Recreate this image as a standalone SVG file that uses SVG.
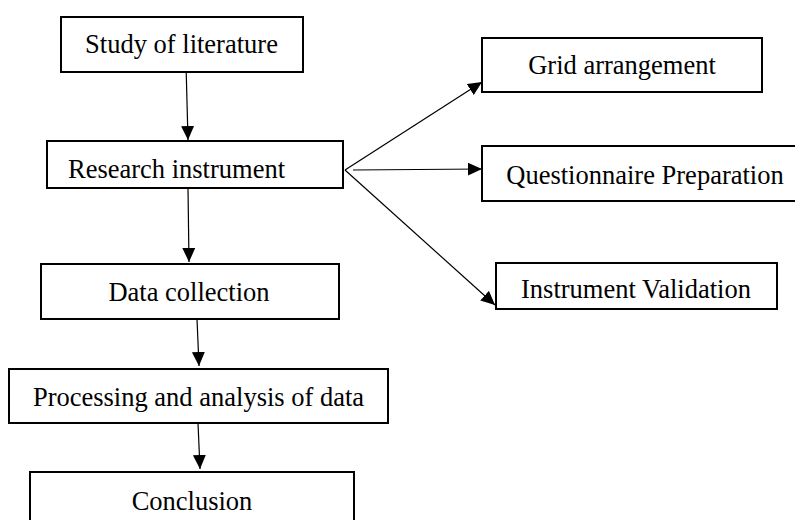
<svg xmlns="http://www.w3.org/2000/svg" width="795" height="520" viewBox="0 0 795 520">
<style>
.box{fill:#fff;stroke:#000;stroke-width:2}
.lbl{font-family:"Liberation Serif","Times New Roman",serif;font-size:26.5px;fill:#000;text-anchor:middle}
.con{stroke:#000;stroke-width:1.2;fill:none;marker-end:url(#ah)}
</style>
<defs>
<marker id="ah" markerUnits="userSpaceOnUse" markerWidth="15" markerHeight="14" refX="14" refY="6.5" orient="auto" viewBox="0 0 15 14">
<path d="M0,0 L14,6.5 L0,13 z" fill="#000"/>
</marker>
</defs>
<rect width="795" height="520" fill="#fff"/>
<g id="connectors">
<line class="con" x1="186" y1="64" x2="188" y2="140"/>
<line class="con" x1="188" y1="188" x2="189" y2="262"/>
<line class="con" x1="197" y1="319" x2="199" y2="366"/>
<line class="con" x1="198" y1="423" x2="200" y2="469"/>
<line class="con" x1="345" y1="170" x2="482" y2="82"/>
<line class="con" x1="353" y1="170" x2="482" y2="169"/>
<line class="con" x1="345" y1="170" x2="495" y2="305"/>
</g>
<g id="n-study">
<rect class="box" x="61" y="17" width="242" height="55"/>
<text class="lbl" x="181.5" y="53">Study of literature</text>
</g>
<g id="n-research">
<rect class="box" x="47" y="141" width="296" height="47"/>
<text class="lbl" x="176.5" y="178">Research instrument</text>
</g>
<g id="n-data">
<rect class="box" x="41" y="264" width="298" height="55"/>
<text class="lbl" x="189" y="301">Data collection</text>
</g>
<g id="n-processing">
<rect class="box" x="9" y="369" width="379" height="54"/>
<text class="lbl" x="198.5" y="406">Processing and analysis of data</text>
</g>
<g id="n-conclusion">
<rect class="box" x="30" y="472" width="324" height="60"/>
<text class="lbl" x="192" y="510">Conclusion</text>
</g>
<g id="n-grid">
<rect class="box" x="482" y="38" width="280" height="54"/>
<text class="lbl" x="622" y="74">Grid arrangement</text>
</g>
<g id="n-questionnaire">
<rect class="box" x="482" y="146" width="320" height="55"/>
<text class="lbl" x="645" y="184">Questionnaire Preparation</text>
</g>
<g id="n-validation">
<rect class="box" x="496" y="263" width="281" height="46"/>
<text class="lbl" x="636" y="298">Instrument Validation</text>
</g>
</svg>
